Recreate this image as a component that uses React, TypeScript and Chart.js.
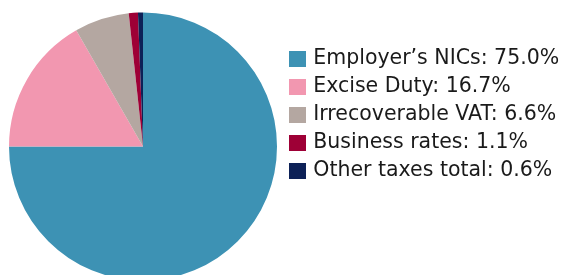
import React, { useEffect, useRef } from "react";
import { Chart, registerables } from "chart.js";

Chart.register(...registerables);

const labels = ["Employer’s NICs", "Excise Duty", "Irrecoverable VAT", "Business rates", "Other taxes total"];
const values = [75.0, 16.7, 6.6, 1.1, 0.6];
const colors = ["#3D92B4", "#F297B0", "#B4A7A1", "#9E0036", "#0D2157"];

function swatch(color: string) {
  const c = document.createElement("canvas");
  c.width = 17;
  c.height = 16;
  const ctx = c.getContext("2d")!;
  ctx.fillStyle = color;
  ctx.fillRect(0, 0, 17, 16);
  return c;
}

export default function App() {
  const ref = useRef<HTMLCanvasElement | null>(null);
  useEffect(() => {
    const canvas = ref.current!;
    const swatches = colors.map(swatch);
    const chart = new Chart(canvas, {
      type: "pie",
      data: {
        labels,
        datasets: [
          {
            data: values,
            backgroundColor: colors,
            borderColor: "#ffffff",
            borderWidth: 0,
            hoverBorderWidth: 0,
            hoverOffset: 0,
            offset: 0,
          },
        ],
      },
      options: {
        responsive: false,
        animation: false,
        layout: { padding: { top: 12.5, left: 1.5, right: 0, bottom: 0.5 } },
        plugins: {
          tooltip: { enabled: false },
          legend: {
            position: "right",
            align: "start",
            maxWidth: 282.5,
            title: { display: true, text: " ", font: { size: 10, lineHeight: 1 }, padding: { top: 18.45, bottom: 0 } },
            labels: {
              usePointStyle: true,
              boxWidth: 11,
              boxHeight: 16,
              padding: 7.5,
              color: "#1a1a1a",
              font: { family: "'DejaVu Sans'", size: 20.5 },
              generateLabels: (c) => {
                const base = Chart.overrides.pie.plugins.legend.labels.generateLabels(c);
                return base.map((item, i) => ({
                  ...item,
                  text: `${labels[i]}: ${values[i].toFixed(1)}%`,
                  lineWidth: 0,
                  strokeStyle: "transparent",
                  pointStyle: swatches[i] as any,
                }));
              },
            },
            onClick: () => {},
          },
        },
      },
    });
    return () => chart.destroy();
  }, []);
  return (
    <div style={{ position: "absolute", left: 0, top: 0, width: 567, height: 275, overflow: "hidden", background: "#fff" }}>
      <canvas ref={ref} width={567} height={281} style={{ width: 567, height: 281, display: "block" }} />
    </div>
  );
}
